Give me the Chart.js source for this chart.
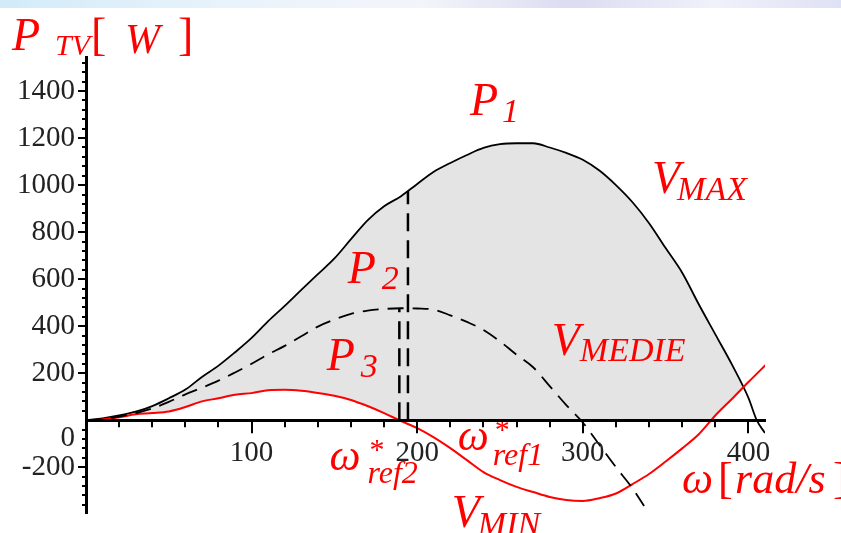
<!DOCTYPE html>
<html>
<head>
<meta charset="utf-8">
<script src="https://cdn.jsdelivr.net/npm/chart.js@4.4.1/dist/chart.umd.min.js"></script>
<style>
html,body{margin:0;padding:0;background:#fff;}
#wrap{width:841px;height:533px;position:relative;}
</style>
</head>
<body>
<div id="wrap"><canvas id="c"></canvas></div>
<script>
// ---- data ----
const omegaMax = [0,10,20,30,40,50,60,70,80,90,100,110,120,130,140,150,160,170,180,190,200,210,220,230,240,250,260,270,280,290,300,310,320,330,340,350,360,370,380,390,400,405,410];
const pMax     = [0,8,20,36,60,93,130,184,232,289,350,421,486,554,621,688,770,850,910,952,1005,1057,1094,1128,1158,1174,1178,1178,1160,1137,1108,1062,1000,927,838,732,627,493,365,237,95,0,-55];

const omegaMedie = [0,10,20,30,40,50,60,70,80,90,100,110,120,130,140,150,160,170,180,190,200,210,220,230,240,250,260,270,280,290,300,310,320,330,337];
const pMedie     = [0,5,15,30,50,78,110,138,168,203,240,280,316,357,398,428,452,466,473,476,475,470,446,418,384,335,278,225,145,64,-10,-105,-200,-290,-365];

const omegaMin = [0,10,20,30,40,50,60,70,80,90,100,110,120,130,140,150,160,170,180,190,200,210,220,230,240,250,260,270,280,290,300,310,320,330,340,350,360,370,380,390,400,412];
const pMin     = [0,3,12,25,30,37,56,80,93,108,115,127,129,125,116,104,86,60,30,-3,-34,-73,-119,-170,-221,-255,-284,-306,-327,-340,-344,-332,-312,-272,-229,-176,-120,-60,20,90,162,246];

const omegaRef = [194.4, 189.2];   // omega*ref1, omega*ref2
const pRefTop  = [975, 476];       // top of the dashed verticals

const xTickStep = 20, xLabelStep = 100;
const yTickStep = 40, yLabelStep = 200;

function pts(xs, ys){ return xs.map((x,i)=>({x:x, y:ys[i]})); }

const SERIF = '"Liberation Serif", "Times New Roman", serif';
const RED = '#ff0000';

// annotation labels, anchored in data coordinates
const annotations = [
  {x:231.8, y:1298, runs:[{t:'P',s:46,i:1},{t:'1',s:34,i:1,ox:32,oy:7}]},
  {x:158.0, y:583,  runs:[{t:'P',s:46,i:1},{t:'2',s:34,i:1,ox:34,oy:6}]},
  {x:145.3, y:214,  runs:[{t:'P',s:46,i:1},{t:'3',s:34,i:1,ox:34,oy:7}]},
  {x:341.8, y:966,  runs:[{t:'V',s:46,i:1},{t:'MAX',s:34,i:1,ox:25,oy:7}]},
  {x:281.3, y:278,  runs:[{t:'V',s:46,i:1},{t:'MEDIE',s:34,i:1,ox:28,oy:6}]},
  {x:220.9, y:-454, runs:[{t:'V',s:46,i:1},{t:'MIN',s:34,i:1,ox:26,oy:8}]},
  {x:147.0, y:-212, runs:[{t:'\u03C9',s:44,i:1},{t:'*',s:30,i:0,ox:40,oy:-11},{t:'ref2',s:32,i:1,ox:38,oy:13}]},
  {x:224.5, y:-127, runs:[{t:'\u03C9',s:44,i:1},{t:'*',s:30,i:0,ox:37,oy:-11},{t:'ref1',s:32,i:1,ox:35,oy:15}]},
  {x:359.9, y:-310, runs:[{t:'\u03C9',s:44,i:1},{t:'[',s:44,i:0,ox:36},{t:'rad/s',s:44,i:1,ox:53},{t:']',s:44,i:0,ox:151}]}
];
const titleRuns = [{t:'P',s:46,i:1},{t:'TV',s:30,i:1,ox:43,oy:5},{t:'[',s:46,i:0,ox:79},{t:'W',s:42,i:1,ox:113,oy:3},{t:']',s:46,i:0,ox:166}];

function drawRuns(ctx, x, y, runs){
  runs.forEach(r=>{
    ctx.font = (r.i?'italic ':'') + r.s + 'px ' + SERIF;
    ctx.fillText(r.t, x + (r.ox||0), y + (r.oy||0));
  });
}

const decor = {
  id:'decor',
  beforeDraw(chart){
    const ctx = chart.ctx;
    ctx.save();
    ctx.fillStyle = '#fff';
    ctx.fillRect(0,0,chart.width,chart.height);
    const g = ctx.createLinearGradient(0,0,chart.width,0);
    g.addColorStop(0,'#d2ebf9'); g.addColorStop(0.28,'#e9f3fb'); g.addColorStop(0.5,'#f4f4fb');
    g.addColorStop(0.68,'#dcdcf2'); g.addColorStop(0.85,'#f0f1fa'); g.addColorStop(1,'#dfe1f5');
    ctx.fillStyle = g;
    ctx.fillRect(0,0,chart.width,8);
    ctx.restore();
  },
  afterDatasetsDraw(chart){
    const {ctx, scales:{x,y}} = chart;
    ctx.save();
    ctx.fillStyle = RED;
    ctx.textAlign = 'left';
    ctx.textBaseline = 'alphabetic';
    annotations.forEach(a=>{
      drawRuns(ctx, x.getPixelForValue(a.x), y.getPixelForValue(a.y), a.runs);
    });
    drawRuns(ctx, 12, 50, titleRuns);
    ctx.restore();
  },
  afterDraw(chart){
    const {ctx, scales:{x,y}} = chart;
    const y0 = y.getPixelForValue(0), x0 = x.getPixelForValue(0);
    ctx.save();
    ctx.strokeStyle = '#000';
    ctx.lineWidth = 2;
    x.ticks.forEach(t=>{
      if (t.value === 0) return;
      const px = Math.round(x.getPixelForValue(t.value));
      const len = (t.value % xLabelStep === 0) ? 13 : 7;
      ctx.beginPath(); ctx.moveTo(px, y0); ctx.lineTo(px, y0+len); ctx.stroke();
    });
    y.ticks.forEach(t=>{
      if (t.value === 0) return;
      const py = Math.round(y.getPixelForValue(t.value));
      const len = (t.value % yLabelStep === 0) ? 8 : 4;
      ctx.beginPath(); ctx.moveTo(x0, py); ctx.lineTo(x0-len, py); ctx.stroke();
    });
    ctx.fillStyle = '#222';
    ctx.font = '29px ' + SERIF;
    ctx.textAlign = 'right';
    ctx.textBaseline = 'middle';
    ctx.fillText('0', x0 - 11, y0 + 18);
    ctx.restore();
  }
};

new Chart(document.getElementById('c'), {
  type:'line',
  data:{
    datasets:[
      {label:'ref1', data:[{x:omegaRef[0],y:0},{x:omegaRef[0],y:pRefTop[0]}], borderColor:'#000', borderWidth:2.5, borderDash:[18,9], pointRadius:0, fill:false},
      {label:'ref2', data:[{x:omegaRef[1],y:0},{x:omegaRef[1],y:pRefTop[1]}], borderColor:'#000', borderWidth:2.5, borderDash:[18,9], pointRadius:0, fill:false},
      {label:'V_MEDIE', data:pts(omegaMedie,pMedie), borderColor:'#000', borderWidth:1.8, borderDash:[16,9], pointRadius:0, cubicInterpolationMode:'monotone', fill:false},
      {label:'V_MIN', data:pts(omegaMin,pMin), borderColor:'#ff0000', borderWidth:2, pointRadius:0, cubicInterpolationMode:'monotone',
        fill:{target:'origin', above:'#ffffff', below:'rgba(0,0,0,0)'}},
      {label:'V_MAX', data:pts(omegaMax,pMax), borderColor:'#000', borderWidth:1.8, pointRadius:0, cubicInterpolationMode:'monotone',
        fill:{target:'origin', above:'#e4e4e4', below:'rgba(0,0,0,0)'}}
    ]
  },
  options:{
    responsive:true, maintainAspectRatio:false, animation:false,
    devicePixelRatio:1,
    layout:{padding:{left:0, right:76, top:57, bottom:20}},
    plugins:{legend:{display:false}, tooltip:{enabled:false}, filler:{drawTime:'beforeDatasetsDraw'}},
    scales:{
      x:{
        type:'linear', min:0, max:410, position:{y:0}, z:1,
        grid:{display:false, drawTicks:false},
        border:{display:true, color:'#000', width:3, z:1},
        ticks:{stepSize:xTickStep, includeBounds:false, autoSkip:false, maxRotation:0, padding:16, z:1,
          color:'#222', font:{family:SERIF, size:29},
          callback:(v)=> (v !== 0 && v % xLabelStep === 0) ? String(v) : ''}
      },
      y:{
        type:'linear', min:-395, max:1545, position:'left', z:1,
        afterFit:(s)=>{ s.width = 86; s.paddingTop = 0; s.paddingBottom = 0; },
        grid:{display:false, drawTicks:false},
        border:{display:true, color:'#000', width:3, z:1},
        ticks:{stepSize:yTickStep, includeBounds:false, autoSkip:false, padding:11, z:1,
          color:'#222', font:{family:SERIF, size:29},
          callback:(v)=> (v !== 0 && v % yLabelStep === 0) ? String(v) : ''}
      }
    }
  },
  plugins:[decor]
});
</script>
</body>
</html>
